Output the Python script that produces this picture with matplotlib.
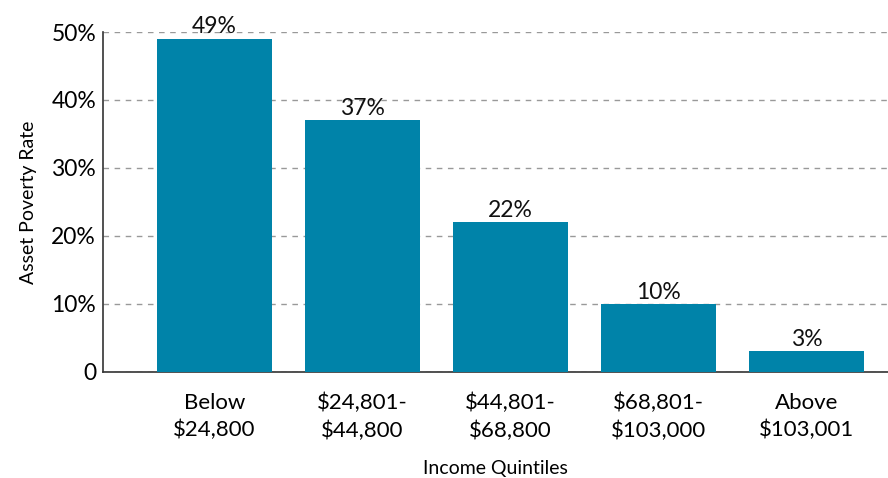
import matplotlib
matplotlib.use('Agg')
import matplotlib.pyplot as plt

# Daten
categories = ['Below\n$24,800', '$24,801-\n$44,800', '$44,801-\n$68,800',
              '$68,801-\n$103,000', 'Above\n$103,001']
rates = [49, 37, 22, 10, 3]
yticks = [0, 10, 20, 30, 40, 50]
ytick_labels = ['0', '10%', '20%', '30%', '40%', '50%']

plt.rcParams['font.family'] = ['Lato', 'DejaVu Sans']

fig = plt.figure(figsize=(8.88, 4.78), dpi=100)
ax = fig.add_axes([0.116, 0.222, 0.884, 0.711])

x = range(len(categories))
bars = ax.bar(x, rates, width=0.78, color='#0083a9', zorder=3)

# Werte über den Balken
for xi, v in zip(x, rates):
    ax.text(xi, v + 0.2, f'{v}%', ha='center', va='bottom', fontsize=16.5, color='#111111')

ax.set_xlim(-0.753, 4.55)
ax.set_ylim(0, 50)
ax.set_yticks(yticks)
ax.set_yticklabels(ytick_labels, fontsize=16.5)
ax.set_xticks(list(x))
ax.set_xticklabels(categories, fontsize=16, linespacing=1.45)
ax.tick_params(axis='both', length=0, pad=5)
ax.tick_params(axis='x', pad=15)

ax.yaxis.grid(True, linestyle=(0, (4, 4)), color='#999999', linewidth=1, zorder=0)
for s in ['top', 'right']:
    ax.spines[s].set_visible(False)
for s in ['left', 'bottom']:
    ax.spines[s].set_color('#333333')
    ax.spines[s].set_linewidth(1.2)

ax.set_ylabel('Asset Poverty Rate', fontsize=14, labelpad=10)
ax.set_xlabel('Income Quintiles', fontsize=14, labelpad=14)

plt.savefig('out.png', dpi=100)
